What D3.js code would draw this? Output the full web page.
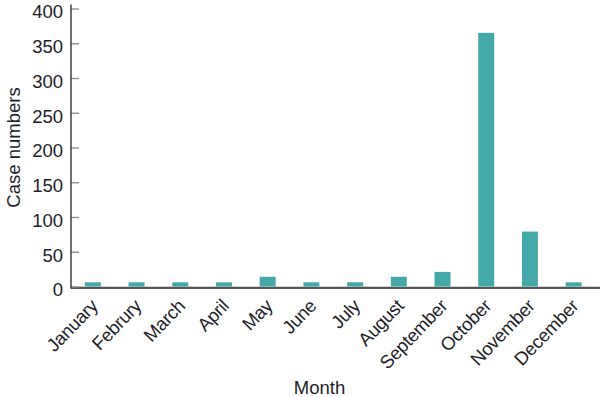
<!DOCTYPE html>
<html><head><meta charset="utf-8">
<script src="https://cdn.jsdelivr.net/npm/d3@7"></script>
<style>body{margin:0;background:#fff}svg{display:block}text{font-family:"Liberation Sans",Arial,sans-serif;fill:#1e1e28}</style>
</head><body>
<script>
const months = ["January","Februry","March","April","May","June","July","August","September","October","November","December"];
const cases = [6, 6, 6, 6, 14, 6, 6, 14, 21, 365, 79, 6];
const yTicks = [0, 50, 100, 150, 200, 250, 300, 350, 400];

const W = 603, H = 397;
const svg = d3.select("body").append("svg").attr("width", W).attr("height", H);

const x = d3.scaleBand().domain(months).range([71, 595.5]).paddingInner(0.635).paddingOuter(0.3175);
const y = d3.scaleLinear().domain([0, 400]).range([286.5, 8.5]);

// baseline lines
svg.append("line").attr("x1", 71).attr("x2", 600).attr("y1", 286.8).attr("y2", 286.8)
  .attr("stroke", "#bdbdbd").attr("stroke-width", 1);
svg.append("line").attr("x1", 71).attr("x2", 600).attr("y1", 288).attr("y2", 288)
  .attr("stroke", "#222").attr("stroke-width", 1.3);

// y axis
const yAxis = d3.axisLeft(y).tickValues(yTicks).tickSize(0).tickPadding(8);
const gy = svg.append("g").attr("transform", "translate(71,0)").call(yAxis);
gy.select(".domain").remove();
gy.selectAll(".tick line").attr("x2", 8).attr("stroke", "#888").attr("stroke-width", 1.3);
gy.selectAll(".tick text").attr("font-size", 18.5).attr("dy", "0.5em").style("font-family", "Liberation Sans, Arial, sans-serif").attr("fill", "#1e1e28");
svg.append("line").attr("x1", 71).attr("x2", 71).attr("y1", 4.5).attr("y2", 288.6)
  .attr("stroke", "#333").attr("stroke-width", 1.4);

// bars
svg.append("g").selectAll("rect").data(months).join("rect")
  .attr("x", d => x(d))
  .attr("width", x.bandwidth())
  .attr("y", (d, i) => y(cases[i]))
  .attr("height", (d, i) => y(0) - y(cases[i]))
  .attr("fill", "#42a8a8");

// x labels
svg.append("g").selectAll("text").data(months).join("text")
  .attr("transform", d => `translate(${x(d) + x.bandwidth() / 2 + 6},307) rotate(-46)`)
  .attr("text-anchor", "end")
  .attr("font-size", 18.5)
  .attr("letter-spacing", -0.3)
  .text(d => d);

// axis titles
svg.append("text").attr("x", 319.5).attr("y", 394).attr("text-anchor", "middle").attr("font-size", 18.5).text("Month");
svg.append("text").attr("transform", "translate(20,147.5) rotate(-90)").attr("text-anchor", "middle").attr("font-size", 18.5).text("Case numbers");
</script>
</body></html>
